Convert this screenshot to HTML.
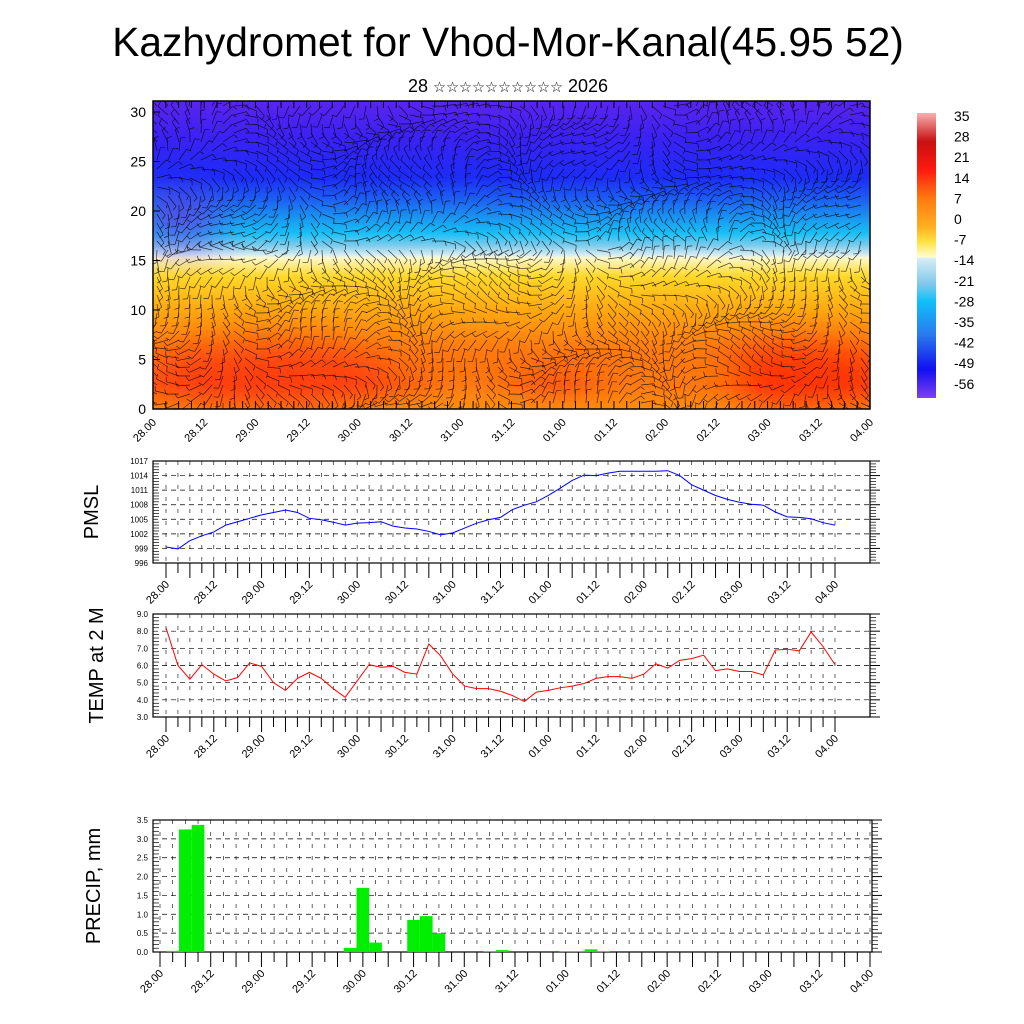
<!DOCTYPE html>
<html><head><meta charset="utf-8">
<style>
body{margin:0;background:#fff;width:1024px;height:1024px;overflow:hidden;font-family:"Liberation Sans","DejaVu Sans",sans-serif}
svg{display:block}
</style></head>
<body>
<svg id="c" width="1024" height="1024" viewBox="0 0 1024 1024">
<defs>
<linearGradient id="vg" x1="0" y1="0" x2="0" y2="1">
<stop offset="0" stop-color="#5a24ee"/>
<stop offset="0.12" stop-color="#3a22f4"/>
<stop offset="0.25" stop-color="#1c2cf8"/>
<stop offset="0.32" stop-color="#1c60f4"/>
<stop offset="0.38" stop-color="#1a96f0"/>
<stop offset="0.43" stop-color="#18c0f6"/>
<stop offset="0.47" stop-color="#80ccec"/>
<stop offset="0.50" stop-color="#d8ecf2"/>
<stop offset="0.51" stop-color="#fff8c8"/>
<stop offset="0.57" stop-color="#ffd828"/>
<stop offset="0.68" stop-color="#ffa810"/>
<stop offset="0.80" stop-color="#ff7c10"/>
<stop offset="0.92" stop-color="#ff5a10"/>
<stop offset="1" stop-color="#ff8a10"/>
</linearGradient>
<linearGradient id="cbg" x1="0" y1="0" x2="0" y2="1">
<stop offset="0" stop-color="#f8b0b0"/>
<stop offset="0.1" stop-color="#c81010"/>
<stop offset="0.2" stop-color="#ff1a10"/>
<stop offset="0.3" stop-color="#ff7a10"/>
<stop offset="0.4" stop-color="#ffb020"/>
<stop offset="0.45" stop-color="#ffe040"/>
<stop offset="0.505" stop-color="#ffffd0"/>
<stop offset="0.51" stop-color="#d8ecf6"/>
<stop offset="0.6" stop-color="#80c8ec"/>
<stop offset="0.66" stop-color="#10c0f8"/>
<stop offset="0.78" stop-color="#2a78ee"/>
<stop offset="0.9" stop-color="#1010f0"/>
<stop offset="1" stop-color="#8040f0"/>
</linearGradient>
<filter id="bl"><feGaussianBlur stdDeviation="18"/></filter>
<clipPath id="cp"><rect x="153" y="101" width="717" height="308"/></clipPath>
</defs>
<text x="508" y="56" font-size="40.7" text-anchor="middle">Kazhydromet for Vhod-Mor-Kanal(45.95 52)</text>
<text x="508" y="92" font-size="18" text-anchor="middle">28 <tspan font-size="14.5">☆☆☆☆☆☆☆☆☆☆</tspan> 2026</text>
<g id="top">
<g clip-path="url(#cp)">
<rect x="153" y="101" width="717" height="308" fill="url(#vg)"/>
<g filter="url(#bl)" opacity="0.75">
<ellipse cx="270" cy="375" rx="120" ry="30" fill="#ff3010"/>
<ellipse cx="800" cy="375" rx="90" ry="30" fill="#ff2000"/>
<ellipse cx="180" cy="220" rx="40" ry="25" fill="#7030e0"/>
<ellipse cx="470" cy="390" rx="60" ry="15" fill="#ffa010"/>
<ellipse cx="660" cy="385" rx="80" ry="15" fill="#ffa010"/>
</g>
<g id="barbs" stroke="#000" stroke-width="0.7" stroke-opacity="0.75" fill="none"></g>
</g>
<rect x="153" y="101" width="717" height="308" fill="none" stroke="#000" stroke-width="1.5"/>
<g id="topAxes"></g>
</g>
<g>
<rect x="917" y="113" width="19" height="285" fill="url(#cbg)"/>
<g id="cbl" font-size="14"></g>
</g>
<g id="pmsl"></g>
<g id="temp"></g>
<g id="prec"></g>
</svg>
<script>
const xLabels=["28.00","28.12","29.00","29.12","30.00","30.12","31.00","31.12","01.00","01.12","02.00","02.12","03.00","03.12","04.00"];
const pmslVals=[999.3,998.9,1000.6,1001.6,1002.4,1003.8,1004.5,1005.2,1005.9,1006.4,1006.9,1006.4,1005.2,1004.9,1004.4,1003.8,1004.2,1004.3,1004.5,1003.6,1003.2,1003.0,1002.5,1001.8,1002.2,1003.2,1004.2,1004.9,1005.4,1007.0,1007.9,1008.6,1009.9,1011.4,1013.0,1014.1,1014.0,1014.5,1014.9,1014.9,1014.9,1014.9,1015.0,1014.0,1012.1,1011.0,1009.9,1009.1,1008.5,1008.1,1007.9,1006.5,1005.5,1005.4,1005.1,1004.3,1003.8];
const pmslTicks=[996,999,1002,1005,1008,1011,1014,1017];
const tempVals=[8.2,6.0,5.2,6.05,5.5,5.1,5.3,6.15,5.95,5.0,4.55,5.25,5.6,5.25,4.65,4.15,5.1,6.05,5.9,5.95,5.6,5.5,7.25,6.55,5.5,4.8,4.65,4.65,4.5,4.25,3.9,4.45,4.55,4.7,4.8,4.95,5.25,5.35,5.35,5.25,5.5,6.1,5.85,6.3,6.4,6.6,5.7,5.8,5.65,5.65,5.45,6.9,6.95,6.85,7.95,7.1,6.05];
const tempTicks=["3.0","4.0","5.0","6.0","7.0","8.0","9.0"];
const precVals=[0,0.03,3.25,3.37,0,0,0,0,0,0,0,0,0,0,0,0.11,1.7,0.25,0,0,0.85,0.95,0.5,0,0,0,0.02,0.05,0,0,0,0,0.02,0.02,0.07,0.02,0,0,0,0,0,0,0,0,0,0,0,0,0,0,0,0,0,0,0,0,0];
const precTicks=["0.0","0.5","1.0","1.5","2.0","2.5","3.0","3.5"];
const heightTicks=[0,5,10,15,20,25,30];
const cbLabels=[35,28,21,14,7,0,-7,-14,-21,-28,-35,-42,-49,-56];

const NS="http://www.w3.org/2000/svg";
function el(p,t,a){const e=document.createElementNS(NS,t);for(const k in a)e.setAttribute(k,a[k]);p.appendChild(e);return e;}

const ta=document.getElementById('topAxes');
const hy=v=>409-v*9.9;
heightTicks.forEach(v=>{
  const t=el(ta,'text',{x:146,y:hy(v)+5,'font-size':14,'text-anchor':'end'});t.textContent=v;
  
  
  el(ta,'line',{x1:153,x2:160,y1:hy(v),y2:hy(v),stroke:'#000'});
});
const tx=i=>153+i*717/56;
for(let i=0;i<=56;i++){el(ta,'line',{x1:tx(i),x2:tx(i),y1:401,y2:409,stroke:'#000'});el(ta,'line',{x1:tx(i),x2:tx(i),y1:101,y2:108,stroke:'#000'});}
xLabels.forEach((l,i)=>{const x=tx(i*4)+4;const t=el(ta,'text',{x:x,y:423,'font-size':11,'text-anchor':'end',transform:`rotate(-45 ${x} 423)`});t.textContent=l;
  
  });
const bg=document.getElementById('barbs');
for(let gx=157;gx<870;gx+=11){for(let gy=106;gy<409;gy+=9){
  const a=Math.sin(gx*0.021+gy*0.013)*1.6+Math.cos(gy*0.037-gx*0.009)*1.2+ (gy<250?0.2:1.2);
  const L=13;const dx=Math.cos(a)*L,dy=Math.sin(a)*L;
  el(bg,'line',{x1:gx,y1:gy,x2:gx+dx,y2:gy+dy});
  el(bg,'line',{x1:gx+dx,y1:gy+dy,x2:gx+dx+Math.cos(a+1.3)*5,y2:gy+dy+Math.sin(a+1.3)*5});
}}
const cb=document.getElementById('cbl');
cbLabels.forEach((v,i)=>{const t=el(cb,'text',{x:954,y:121+i*20.6});t.textContent=v;
  
  });

function panel(g,o){
  const {x0,x1,y0,y1,dx0,dx1,vmin,vmax,ticks,title,ty}=o;
  const X=i=>dx0+i*(dx1-dx0)/56;
  const Y=v=>y1-(v-vmin)/(vmax-vmin)*(y1-y0);
  el(g,'rect',{x:x0,y:y0,width:x1-x0,height:y1-y0,fill:'none',stroke:'#000','stroke-width':1.2});
  for(let i=0;i<=56;i++){
    el(g,'line',{x1:X(i),x2:X(i),y1:y0,y2:y1,stroke:'#000','stroke-width':0.6,'stroke-dasharray':'4 8'});
    el(g,'line',{x1:X(i),x2:X(i),y1:y1,y2:y1+(i%2?10:15),stroke:'#000','stroke-width':1});
  }
  const nt=ticks.length;
  ticks.forEach((tv,k)=>{const v=vmin+k*(vmax-vmin)/(nt-1);const y=Y(v);
    if(k>0&&k<nt-1)el(g,'line',{x1:x0,x2:x1,y1:y,y2:y,stroke:'#000','stroke-width':0.7,'stroke-dasharray':'5 4'});
    el(g,'line',{x1:x1,x2:x1+10,y1:y,y2:y,stroke:'#000'});
    const t=el(g,'text',{x:x0-5,y:y+3,'font-size':8,'text-anchor':'end'});t.textContent=tv;
    
    
    for(let m=1;m<5&&k<nt-1;m++){const ym=y-(y1-y0)/(nt-1)*m/5;
      el(g,'line',{x1:x1,x2:x1+6,y1:ym,y2:ym,stroke:'#000','stroke-width':0.7});
      el(g,'line',{x1:x0,x2:x0+6,y1:ym,y2:ym,stroke:'#000','stroke-width':0.7});}
  });
  xLabels.forEach((l,i)=>{const x=X(i*4)+4;const yy=y1+22;const t=el(g,'text',{x:x,y:yy,'font-size':11,'text-anchor':'end',transform:`rotate(-45 ${x} ${yy})`});t.textContent=l;
    
    });
  const tt=el(g,'text',{x:0,y:0,'font-size':20,'text-anchor':'middle',transform:`translate(${ty} ${(y0+y1)/2}) rotate(-90)`});tt.textContent=title;
  
  
  return {X,Y};
}
const p1=panel(document.getElementById('pmsl'),{x0:153,x1:870,y0:461,y1:563,dx0:166,dx1:835,vmin:996,vmax:1017,ticks:pmslTicks,title:'PMSL',ty:98});
const pl=el(document.getElementById('pmsl'),'polyline',{points:pmslVals.map((v,i)=>p1.X(i)+','+p1.Y(v)).join(' '),fill:'none',stroke:'#0000ff','stroke-width':1});


const p2=panel(document.getElementById('temp'),{x0:153,x1:870,y0:614,y1:717,dx0:166,dx1:835,vmin:3,vmax:9,ticks:tempTicks,title:'TEMP at 2 M',ty:103});
const tl=el(document.getElementById('temp'),'polyline',{points:tempVals.map((v,i)=>p2.X(i)+','+p2.Y(v)).join(' '),fill:'none',stroke:'#ff0000','stroke-width':1});


const pg=document.getElementById('prec');
const p3=panel(pg,{x0:153,x1:872,y0:820,y1:952,dx0:160,dx1:870,vmin:0,vmax:3.5,ticks:precTicks,title:'PRECIP, mm',ty:100});
const bw=710/56;
precVals.forEach((v,i)=>{if(v<=0)return;const b=el(pg,'rect',{x:p3.X(i)-bw/2,y:p3.Y(v),width:bw,height:p3.Y(0)-p3.Y(v),fill:'#00ee00'});
  
  });
</script>
</body></html>
